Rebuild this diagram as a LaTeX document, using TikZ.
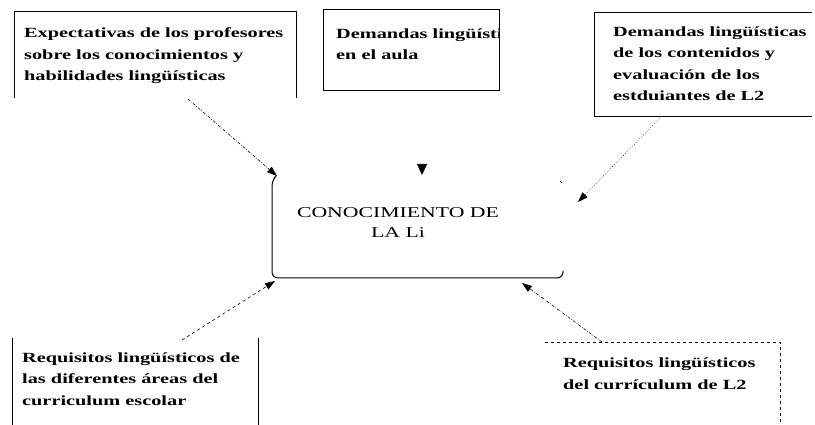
\documentclass[tikz,border=0pt]{standalone}
\usepackage{fontspec}
\setmainfont{Liberation Serif}
\newfontfamily\boxfont[FakeStretch=1.45]{Liberation Serif}
\newfontfamily\centrefont[FakeStretch=1.45]{Liberation Serif}
\usetikzlibrary{arrows.meta}
\tikzset{every node/.style={font=\boxfont\bfseries\fontsize{14}{21.5}\selectfont,inner sep=0pt,align=left},line cap=round,line join=round}
\tikzset{frame/.style={line width=1pt},
  feed/.style={line width=0.6pt,dash pattern=on 3pt off 1.5pt on 0.6pt off 1.5pt,-{Triangle[length=10pt,width=7pt]}}}

\begin{document}
\begin{tikzpicture}[x=1pt,y=-1pt]
  \path[use as bounding box] (0,0) rectangle (815,425);
  % boxes
  \draw[frame] (14,98)--(14,12)--(296,12)--(296,98);
  \draw[frame] (323,10) rectangle (499,91);
  \draw[frame] (812,13)--(594,13)--(594,117)--(812,117);
  \draw[frame] (12,338)--(12,425) (258,338)--(258,425);
  \draw[frame,dashed] (545,342)--(780,342)--(780,425);
  \draw[frame,rounded corners=6pt] (274,178)--(272,180)--(272,278)--(563,278)--(563,271);
  \draw[line width=0.6pt] (560,181)--(562,183);
  % texts (base = last line)
  \node[anchor=base west] (expect) at (24,81) {Expectativas de los profesores\\sobre los conocimientos y\\habilidades lingüísticas};
  \begin{scope}
    \clip (323,10) rectangle (499,91);
    \node[anchor=base west] (aula) at (336,60) {Demandas lingüísticas\\en el aula};
  \end{scope}
  \node[anchor=base west] (eval) at (613,101) {Demandas lingüísticas\\de los contenidos y\\evaluación de los\\estduiantes de L2};
  \node[anchor=base,align=center,font=\centrefont\fontsize{15}{20.5}\selectfont] (li) at (398,238) {CONOCIMIENTO DE\\LA Li};
  \node[anchor=base west] (areas) at (22,405) {Requisitos lingüísticos de\\las diferentes áreas del\\curriculum escolar};
  \node[anchor=base west] (curric) at (563,389) {Requisitos lingüísticos\\del currículum de L2};
  % arrows
  \coordinate (expect out) at (188,99);
  \coordinate (li nw) at (277,176);
  \coordinate (aula out) at (422,164);
  \coordinate (li n) at (422,175);
  \coordinate (eval out) at (660,118);
  \coordinate (li ne) at (578,202);
  \coordinate (areas out) at (182,340);
  \coordinate (li sw) at (275,281);
  \coordinate (curric out) at (602,342);
  \coordinate (li se) at (522,283);
  \draw[feed] (expect out) -- (li nw);
  \draw[feed,solid,-{Triangle[length=11pt,width=10pt]}] (aula out) -- (li n);
  \draw[feed,dotted] (eval out) -- (li ne);
  \draw[feed,dashed] (areas out) -- (li sw);
  \draw[feed] (curric out) -- (li se);
\end{tikzpicture}
\end{document}
